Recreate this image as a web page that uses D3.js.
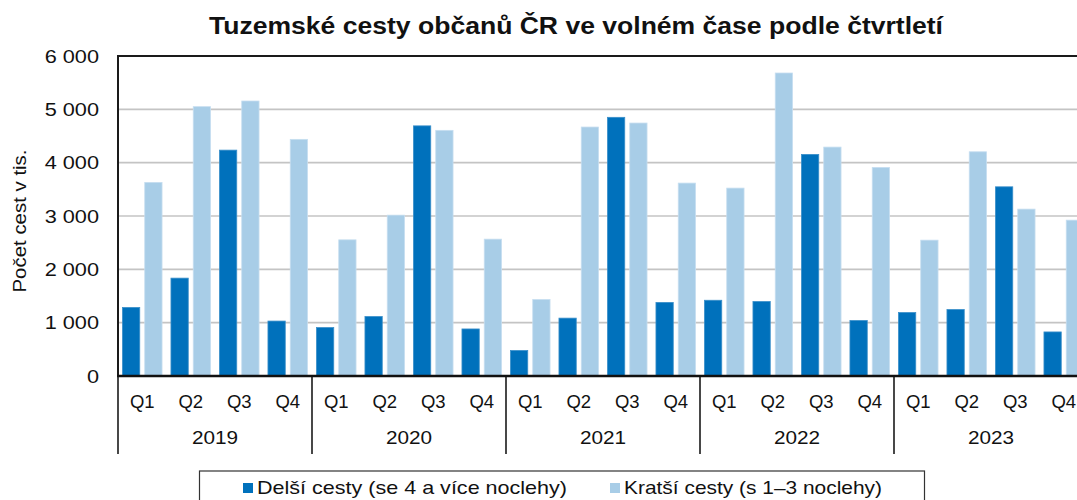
<!DOCTYPE html>
<html>
<head>
<meta charset="utf-8">
<script src="https://cdn.jsdelivr.net/npm/d3@7"></script>
<style>
  body { margin: 0; background: #fff; overflow: hidden; }
  svg { display: block; font-family: "Liberation Sans", Arial, sans-serif; }
</style>
</head>
<body>
<svg id="chart" width="1077" height="500"></svg>
<script>
// data (thousands of trips)
var years = ["2019", "2020", "2021", "2022", "2023"];
var quarters = ["Q1", "Q2", "Q3", "Q4"];
var seriesNames = ["Delší cesty (se 4 a více noclehy)", "Kratší cesty (s 1–3 noclehy)"];
var longer = [1285, 1835, 4235, 1030,  908, 1115, 4690, 882,  478, 1085, 4850, 1380,  1420, 1396, 4155, 1040,  1190, 1246, 3547, 826];
var shorter = [3630, 5050, 5156, 4437,  2553, 3016, 4606, 2566,  1434, 4668, 4743, 3617,  3523, 5681, 4292, 3911,  2547, 4204, 3129, 2922];
var yTicks = [0, 1000, 2000, 3000, 4000, 5000, 6000];
var colors = ["#0071BC", "#A8CDE7"];

var svg = d3.select("#chart");

var plotL = 118, plotT = 56, plotB = 376;
var groupW = 194;
var plotR = plotL + groupW * years.length;

// one key per quarter
var keys = [];
years.forEach(function(y) {
    quarters.forEach(function(q) { keys.push(y + "-" + q); });
});

var rows = keys.map(function(k, i) {
    return { key: k, year: k.split("-")[0], q: k.split("-")[1], values: [longer[i], shorter[i]] };
});

var x0 = d3.scaleBand().domain(keys).range([plotL, plotR]).padding(0);
var x1 = d3.scaleBand().domain([0, 1]).range([0, x0.bandwidth()]).paddingInner(0.224).paddingOuter(0.2);
var xYear = d3.scaleBand().domain(years).range([plotL, plotR]).padding(0);
var y = d3.scaleLinear().domain([0, 6000]).range([plotB, plotT]);

var fmt = function(d) { return d3.format(",")(d).replace(/,/g, " "); };

// stretch text a little, the original font runs wider
function widen(sel, k) {
    sel.each(function() {
        var w = this.getComputedTextLength();
        d3.select(this).attr("textLength", w * k).attr("lengthAdjust", "spacingAndGlyphs");
    });
}

// gridlines
svg.append("g")
    .selectAll("line")
    .data(yTicks.filter(function(d) { return d > 0 && d < 6000; }))
    .join("line")
    .attr("x1", plotL).attr("x2", plotR)
    .attr("y1", function(d) { return y(d); })
    .attr("y2", function(d) { return y(d); })
    .attr("stroke", "#c4c4c4")
    .attr("stroke-width", 1.6);

// bars
svg.append("g")
    .selectAll("g")
    .data(rows)
    .join("g")
    .attr("transform", function(d) { return "translate(" + x0(d.key) + ",0)"; })
    .selectAll("rect")
    .data(function(d) { return d.values; })
    .join("rect")
    .attr("x", function(d, i) { return x1(i); })
    .attr("width", x1.bandwidth())
    .attr("y", function(d) { return y(d); })
    .attr("height", function(d) { return plotB - y(d); })
    .attr("fill", function(d, i) { return colors[i]; })
    .attr("stroke", function(d, i) { return i === 0 ? "#3a8fca" : "#c6def0"; })
    .attr("stroke-width", 0.8);

// plot frame
svg.append("rect")
    .attr("x", plotL).attr("y", plotT)
    .attr("width", plotR - plotL).attr("height", plotB - plotT)
    .attr("fill", "none")
    .attr("stroke", "#1a1a1a")
    .attr("stroke-width", 2);

// y axis
var yAxis = svg.append("g")
    .attr("transform", "translate(" + plotL + ",0)")
    .call(d3.axisLeft(y).tickValues(yTicks).tickFormat(fmt).tickSize(0).tickPadding(19));
yAxis.select(".domain").remove();
yAxis.selectAll("text")
    .attr("font-size", 17.5)
    .attr("font-family", "Liberation Sans, Arial, sans-serif")
    .attr("fill", "#111")
    .attr("dy", "0.36em")
    .call(widen, 1.24);

svg.append("text")
    .attr("transform", "translate(26,221) rotate(-90)")
    .attr("text-anchor", "middle")
    .attr("font-size", 18)
    .attr("fill", "#111")
    .attr("textLength", 143)
    .attr("lengthAdjust", "spacingAndGlyphs")
    .text("Počet cest v tis.");

// x axis: quarters
var xAxis = svg.append("g")
    .attr("transform", "translate(0," + plotB + ")")
    .call(d3.axisBottom(x0).tickFormat(function(d) { return d.split("-")[1]; }).tickSize(0).tickPadding(19));
xAxis.select(".domain").remove();
xAxis.selectAll("text")
    .attr("font-size", 18.5)
    .attr("font-family", "Liberation Sans, Arial, sans-serif")
    .attr("fill", "#111");

// x axis: years
var yearAxis = svg.append("g")
    .attr("transform", "translate(0," + (plotB + 36) + ")")
    .call(d3.axisBottom(xYear).tickSize(0).tickPadding(19));
yearAxis.select(".domain").remove();
yearAxis.selectAll("text")
    .attr("font-size", 18.5)
    .attr("font-family", "Liberation Sans, Arial, sans-serif")
    .attr("fill", "#111")
    .call(widen, 1.12);

// year separators
var seps = years.map(function(yr) { return xYear(yr); }).concat([plotR]);
svg.append("g")
    .selectAll("line")
    .data(seps)
    .join("line")
    .attr("x1", function(d) { return d; }).attr("x2", function(d) { return d; })
    .attr("y1", plotB).attr("y2", 454)
    .attr("stroke", "#1a1a1a")
    .attr("stroke-width", 1.6);

// bottom axis line on top
svg.append("line")
    .attr("x1", plotL - 1).attr("x2", plotR)
    .attr("y1", plotB).attr("y2", plotB)
    .attr("stroke", "#111")
    .attr("stroke-width", 2.5);

// title
svg.append("text")
    .attr("x", 576).attr("y", 34)
    .attr("text-anchor", "middle")
    .attr("font-size", 23)
    .attr("font-weight", "bold")
    .attr("fill", "#111")
    .attr("textLength", 734)
    .attr("lengthAdjust", "spacingAndGlyphs")
    .text("Tuzemské cesty občanů ČR ve volném čase podle čtvrtletí");

// legend
var legend = svg.append("g");
legend.append("rect")
    .attr("x", 199.5).attr("y", 471)
    .attr("width", 725).attr("height", 40)
    .attr("fill", "#fff")
    .attr("stroke", "#333")
    .attr("stroke-width", 1.2);
var legendX = [243, 610];
var legendW = [310, 258];
var items = legend.selectAll("g.item")
    .data(seriesNames)
    .join("g")
    .attr("class", "item")
    .attr("transform", function(d, i) { return "translate(" + legendX[i] + ",0)"; });
items.append("rect")
    .attr("x", 0).attr("y", 483)
    .attr("width", 10).attr("height", 10)
    .attr("fill", function(d, i) { return colors[i]; });
items.append("text")
    .attr("x", 14).attr("y", 494)
    .attr("font-size", 18.5)
    .attr("fill", "#111")
    .attr("textLength", function(d, i) { return legendW[i]; })
    .attr("lengthAdjust", "spacingAndGlyphs")
    .text(function(d) { return d; });
</script>
</body>
</html>
